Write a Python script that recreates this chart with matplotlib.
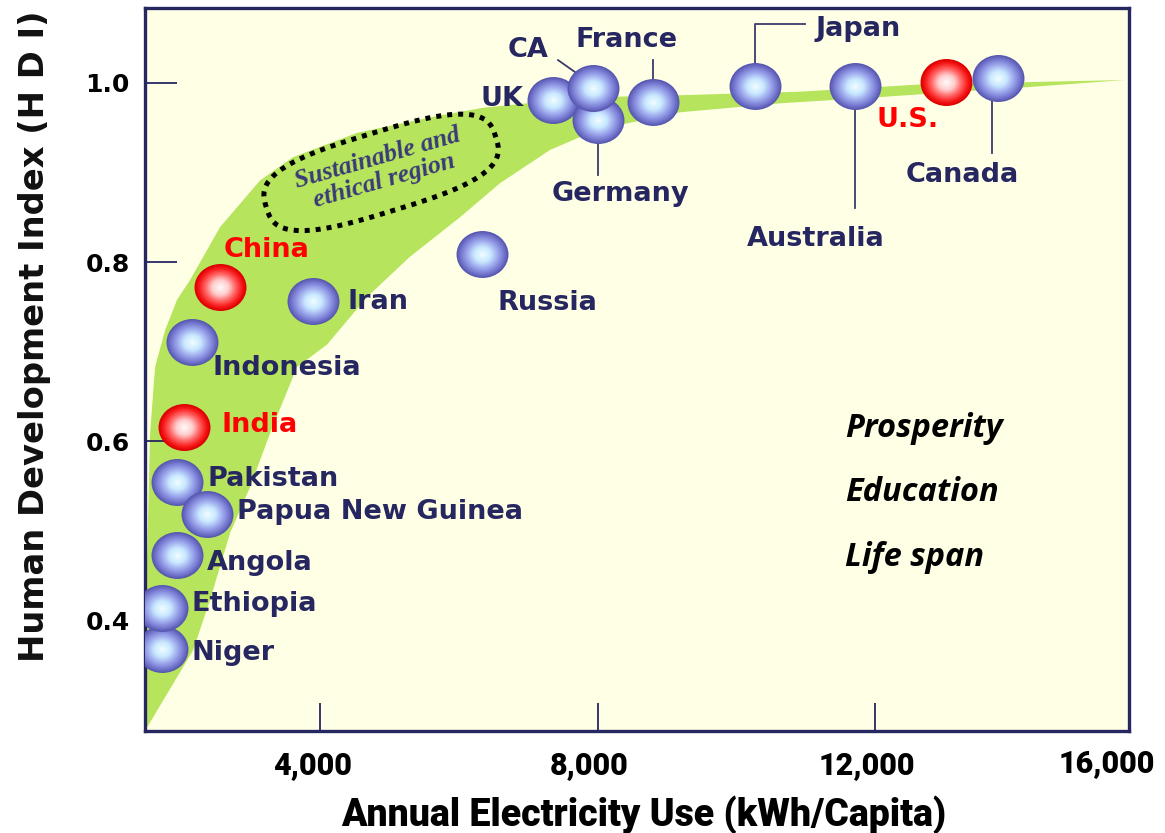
"""Human Development Index vs annual electricity use per capita."""
import numpy as np
import matplotlib
matplotlib.use('Agg')
import matplotlib.pyplot as plt
import matplotlib.transforms as mtransforms
from matplotlib.path import Path
from matplotlib.patches import PathPatch
from matplotlib import font_manager

# ---- data -------------------------------------------------------------
countries = ['Niger', 'Ethiopia', 'Angola', 'Pakistan', 'Papua New Guinea',
             'India', 'Indonesia', 'China', 'Iran', 'Russia', 'UK', 'Germany',
             'CA', 'France', 'Japan', 'Australia', 'U.S.', 'Canada']
kwh = [1718, 1718, 1934, 1934, 2371, 2040, 2151, 2559, 3899, 6335,
       7358, 8007, 7935, 8800, 10270, 11711, 13019, 13773]
hdi = [0.369, 0.414, 0.473, 0.555, 0.519, 0.616, 0.711, 0.772, 0.757, 0.809,
       0.981, 0.958, 0.994, 0.978, 0.996, 0.996, 1.001, 1.005]
red_ones = ['China', 'India', 'U.S.']

# green "sustainable" band: upper edge then lower edge
band_upper_x = [1492, 1506, 1550, 1622, 1766, 1939, 2126, 2559, 3135, 3611,
                4533, 5629, 6349, 6984, 8036, 9189, 10919, 12648, 15603]
band_upper_y = [0.284, 0.468, 0.609, 0.683, 0.724, 0.758, 0.780, 0.839, 0.891,
                0.917, 0.944, 0.962, 0.972, 0.977, 0.984, 0.986, 0.990, 0.998,
                1.003]
band_lower_x = [14191, 12072, 10630, 9189, 8324, 7704, 7315, 6595, 6018, 5297,
                4677, 4101, 3668, 3279, 2991, 2703, 2414, 2169, 1737, 1506]
band_lower_y = [0.995, 0.984, 0.977, 0.967, 0.953, 0.938, 0.925, 0.888, 0.850,
                0.806, 0.761, 0.708, 0.683, 0.609, 0.549, 0.498, 0.423, 0.367,
                0.311, 0.281]

x_ticks = [4000, 8000, 12000]
x_ticklabels = ['4,000', '8,000', '12,000']
y_ticks = [0.4, 0.6, 0.8, 1.0]
y_ticklabels = ['0.4', '0.6', '0.8', '1.0']
factors = ['Prosperity', 'Education', 'Life span']

# label placement, pixel offsets from the sphere centre (x right, y up)
label_off = {
    'Niger': (30, -2, 'left'), 'Ethiopia': (30, 6, 'left'),
    'Angola': (30, -6, 'left'), 'Pakistan': (31, 5, 'left'),
    'Papua New Guinea': (30, 4, 'left'), 'India': (37, 4, 'left'),
    'Indonesia': (21, -24, 'left'), 'China': (4, 39, 'left'),
    'Iran': (34, 1, 'left'), 'Russia': (15, -47, 'left'),
    'UK': (-30, 3, 'right'), 'CA': (-85, 40, 'left'),
    'France': (-78, 64, 'left'), 'Germany': (-46, -72, 'left'),
    'Japan': (60, 59, 'left'), 'Australia': (-108, -151, 'left'),
    'U.S.': (-69, -36, 'left'), 'Canada': (-92, -95, 'left'),
}
leaders = {
    'CA': [(-35, 28), (-18, 16)],
    'France': [(0, 42), (0, 22)],
    'Japan': [(0, 23), (0, 62), (50, 62)],
    'Germany': [(0, -22), (0, -55)],
    'Australia': [(0, -22), (0, -122)],
    'Canada': [(-6, -22), (-6, -75)],
}

NAVY = '#262660'
BG = '#FFFFE6'
GREEN = '#B6E45C'


def pick_font(names, default='DejaVu Sans'):
    for n in names:
        try:
            font_manager.findfont(font_manager.FontProperties(family=n),
                                  fallback_to_default=False)
            return n
        except ValueError:
            pass
    return default


axis_font = pick_font(['Roboto', 'Liberation Sans'])

fig = plt.figure(figsize=(11.65, 8.33), dpi=100)
ax = fig.add_axes([0.1245, 0.1224, 0.8446, 0.868])
ax.set_facecolor(BG)
ax.set_xlim(1477, 15661)
ax.set_ylim(0.277, 1.0833)

# band
bx = band_upper_x + band_lower_x
by = band_upper_y + band_lower_y
ax.fill(bx, by, color=GREEN, lw=0, zorder=1)

# spines and ticks
for s in ax.spines.values():
    s.set_color(NAVY)
    s.set_linewidth(2.4)
ax.set_xticks(x_ticks)
ax.set_xticklabels(x_ticklabels, fontfamily=axis_font, fontweight='heavy', fontsize=22)
ax.set_yticks(y_ticks)
ax.set_yticklabels(y_ticklabels, fontweight='bold', fontsize=18)
ax.tick_params(axis='x', direction='in', length=20, width=1.3, color=NAVY, pad=14)
ax.tick_params(axis='y', direction='in', length=23, width=1.3, color=NAVY, pad=11)
for lab in ax.get_xticklabels():
    lab.set_transform(lab.get_transform() +
                      mtransforms.ScaledTranslation(-8 / 100, 0, fig.dpi_scale_trans))
ax.annotate('16,000', xy=(1, 0), xycoords='axes fraction', xytext=(19, -23),
            textcoords='offset points', ha='right', va='center',
            fontfamily=axis_font, fontweight='heavy', fontsize=22)

ax.set_xlabel('Annual Electricity Use (kWh/Capita)', fontfamily=axis_font,
              fontweight='heavy', fontsize=27)
ax.xaxis.set_label_coords(0.507, -0.117)
ax.xaxis.label.set_va('center')
ax.set_ylabel('Human Development Index (H D I)', fontweight='bold', fontsize=24.3,
              color='#111111')
ax.yaxis.set_label_coords(-0.112, 0.546)
ax.yaxis.label.set_va('center')

# spheres
circ = Path.unit_circle()
ell_marker = Path(circ.vertices * [1.0, 0.904], circ.codes)
blue_stops = [(0.0, (245, 255, 255)), (0.35, (200, 232, 255)),
              (0.6, (160, 172, 238)), (0.85, (118, 120, 208)), (1.0, (88, 88, 176))]
red_stops = [(0.0, (255, 255, 255)), (0.35, (255, 205, 205)),
             (0.6, (255, 105, 105)), (0.85, (248, 25, 25)), (1.0, (220, 0, 0))]


def stop_color(stops, r):
    rs = [s[0] for s in stops]
    return tuple(np.interp(r, rs, [s[1][k] for s in stops]) / 255 for k in range(3))


n_layers = 18
for i, (name, x, y) in enumerate(zip(countries, kwh, hdi)):
    stops = red_stops if name in red_ones else blue_stops
    for k in range(n_layers):
        r = 1.0 - k / n_layers
        ax.scatter([x], [y], s=(37.4 * r) ** 2, marker=ell_marker,
                   color=stop_color(stops, r), lw=0, zorder=5 + i * 0.05 + k * 0.001)

ax.figure.canvas.draw()
ident = mtransforms.IdentityTransform()

# labels and leader lines
for name, x, y in zip(countries, kwh, hdi):
    dx, dy, ha = label_off[name]
    col = '#FF0000' if name in red_ones else NAVY
    ax.annotate(name, xy=(x, y), xytext=(dx * 0.72, (dy - 2) * 0.72),
                textcoords='offset points', ha=ha, va='center', fontsize=19.5,
                fontweight='bold', color=col, zorder=8)
    if name in leaders:
        base = ax.transData.transform((x, y))
        pts = np.array(leaders[name], dtype=float) + base
        ax.plot(pts[:, 0], pts[:, 1], color='#3A3A6A', lw=1.3,
                transform=ident, zorder=4)

# dotted "sustainable" outline (superellipse, drawn in pixels)
t = np.linspace(0, 2 * np.pi, 200)
a_px, b_px, n_exp = 120, 40, 3.0
ex = a_px * np.sign(np.cos(t)) * np.abs(np.cos(t)) ** (2 / n_exp)
ey = b_px * np.sign(np.sin(t)) * np.abs(np.sin(t)) ** (2 / n_exp)
cx, cy = ax.transData.transform((4880, 0.900))
outline = mtransforms.Affine2D().rotate_deg(17).translate(cx, cy)
ax.add_patch(PathPatch(Path(np.column_stack([ex, ey]), closed=False), fill=False,
                       lw=3.6, ls=(0, (1, 1.2)), color='black',
                       transform=outline, zorder=3))
ax.text(4880, 0.903, 'Sustainable and\nethical region', rotation=16,
        rotation_mode='anchor', ha='center', va='center', ma='center',
        fontfamily='Liberation Serif', style='italic', fontweight='bold',
        fontsize=18.5, color='#3A3A78', linespacing=1.05, zorder=3)

# factors
for j, word in enumerate(factors):
    ax.text(11567, 0.614 - j * 0.0715, word, ha='left', va='center',
            fontfamily='Open Sans', fontweight='bold', style='italic',
            fontsize=23.5, color='black', zorder=3)

fig.savefig('out.png', dpi=100, facecolor='white')
